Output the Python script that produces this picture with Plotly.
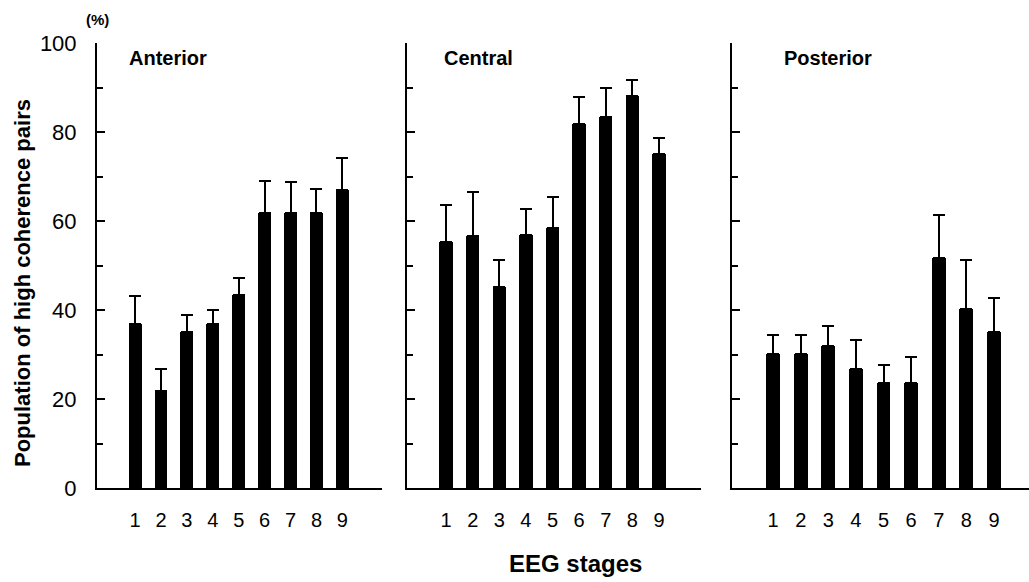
import plotly.graph_objects as go

stages = [1, 2, 3, 4, 5, 6, 7, 8, 9]
stage_labels = ["1", "2", "3", "4", "5", "6", "7", "8", "9"]

anterior_mean = [36.8, 21.8, 35.1, 36.8, 43.4, 61.8, 61.8, 61.8, 66.9]
anterior_top = [43.1, 26.7, 38.8, 40.0, 47.1, 69.1, 68.8, 67.3, 74.2]

central_mean = [55.2, 56.7, 45.2, 56.9, 58.4, 81.7, 83.3, 88.0, 75.0]
central_top = [63.6, 66.6, 51.2, 62.8, 65.4, 87.9, 89.8, 91.7, 78.6]

posterior_mean = [30.2, 30.2, 32.0, 26.8, 23.6, 23.6, 51.7, 40.2, 35.1]
posterior_top = [34.3, 34.3, 36.4, 33.2, 27.7, 29.5, 61.3, 51.2, 42.6]

panel_names = ["Anterior", "Central", "Posterior"]
y_ticks = [0, 20, 40, 60, 80, 100]

W, H = 1029, 582
FONT = "Liberation Sans, Arial, sans-serif"

panels = [
    (anterior_mean, anterior_top, (97, 382), (-0.47, 10.53), 127),
    (central_mean, central_top, (407, 701), (-0.47, 10.58), 442),
    (posterior_mean, posterior_top, (732, 1029), (-0.49, 10.27), 782),
]

y_dom = (1 - 488 / H, 1 - 43 / H)

fig = go.Figure()
annotations = []
for i, (mean, top, (x0, x1), xr, lab_x) in enumerate(panels):
    idx = "" if i == 0 else str(i + 1)
    fig.add_trace(go.Bar(
        x=stages, y=mean, width=0.5,
        marker=dict(color="black", line=dict(width=0)),
        error_y=dict(type="data", symmetric=False,
                     array=[t - m for t, m in zip(top, mean)],
                     arrayminus=[0] * len(mean),
                     color="black", thickness=2, width=6),
        xaxis="x" + idx, yaxis="y" + idx, showlegend=False,
    ))
    fig.layout["xaxis" + idx] = dict(
        domain=[x0 / W, min(x1 / W, 1.0)], range=list(xr), anchor="y" + idx,
        tickmode="array", tickvals=stages, ticktext=stage_labels,
        ticks="", showline=True, linecolor="black", linewidth=2,
        showgrid=False, zeroline=False, ticklabelstandoff=13, automargin=False,
        tickfont=dict(family=FONT, size=20, color="black"),
    )
    fig.layout["yaxis" + idx] = dict(
        domain=list(y_dom), range=[0, 100], anchor="x" + idx,
        tickmode="array", tickvals=y_ticks,
        showticklabels=(i == 0), automargin=False,
        ticks="inside", ticklen=8, tickwidth=2, tickcolor="black",
        minor=dict(ticks="inside", dtick=10, ticklen=6, tickwidth=2, tickcolor="black"),
        showline=True, linecolor="black", linewidth=2,
        showgrid=False, zeroline=False, ticklabelstandoff=14,
        tickfont=dict(family=FONT, size=22, color="black"),
    )
    annotations.append(dict(
        text=panel_names[i], x=lab_x / W, y=1 - 58 / H, xref="paper", yref="paper",
        xanchor="left", yanchor="middle", showarrow=False,
        font=dict(family=FONT, size=20, color="black", weight="bold"),
    ))

annotations += [
    dict(text="Population of high coherence pairs", x=22 / W, y=1 - 283 / H,
         xref="paper", yref="paper", textangle=-90, showarrow=False,
         xanchor="center", yanchor="middle",
         font=dict(family=FONT, size=22, color="black", weight="bold")),
    dict(text="(%)", x=97 / W, y=1 - 20 / H, xref="paper", yref="paper",
         showarrow=False, xanchor="center", yanchor="middle",
         font=dict(family=FONT, size=15, color="black", weight="bold")),
    dict(text="EEG stages", x=575 / W, y=1 - 563 / H, xref="paper", yref="paper",
         showarrow=False, xanchor="center", yanchor="middle",
         font=dict(family=FONT, size=24, color="black", weight="bold")),
]

fig.update_layout(
    width=W, height=H, margin=dict(l=0, r=0, t=0, b=0, autoexpand=False),
    paper_bgcolor="white", plot_bgcolor="white",
    annotations=annotations, bargap=0,
)

fig.write_html("out.html")
